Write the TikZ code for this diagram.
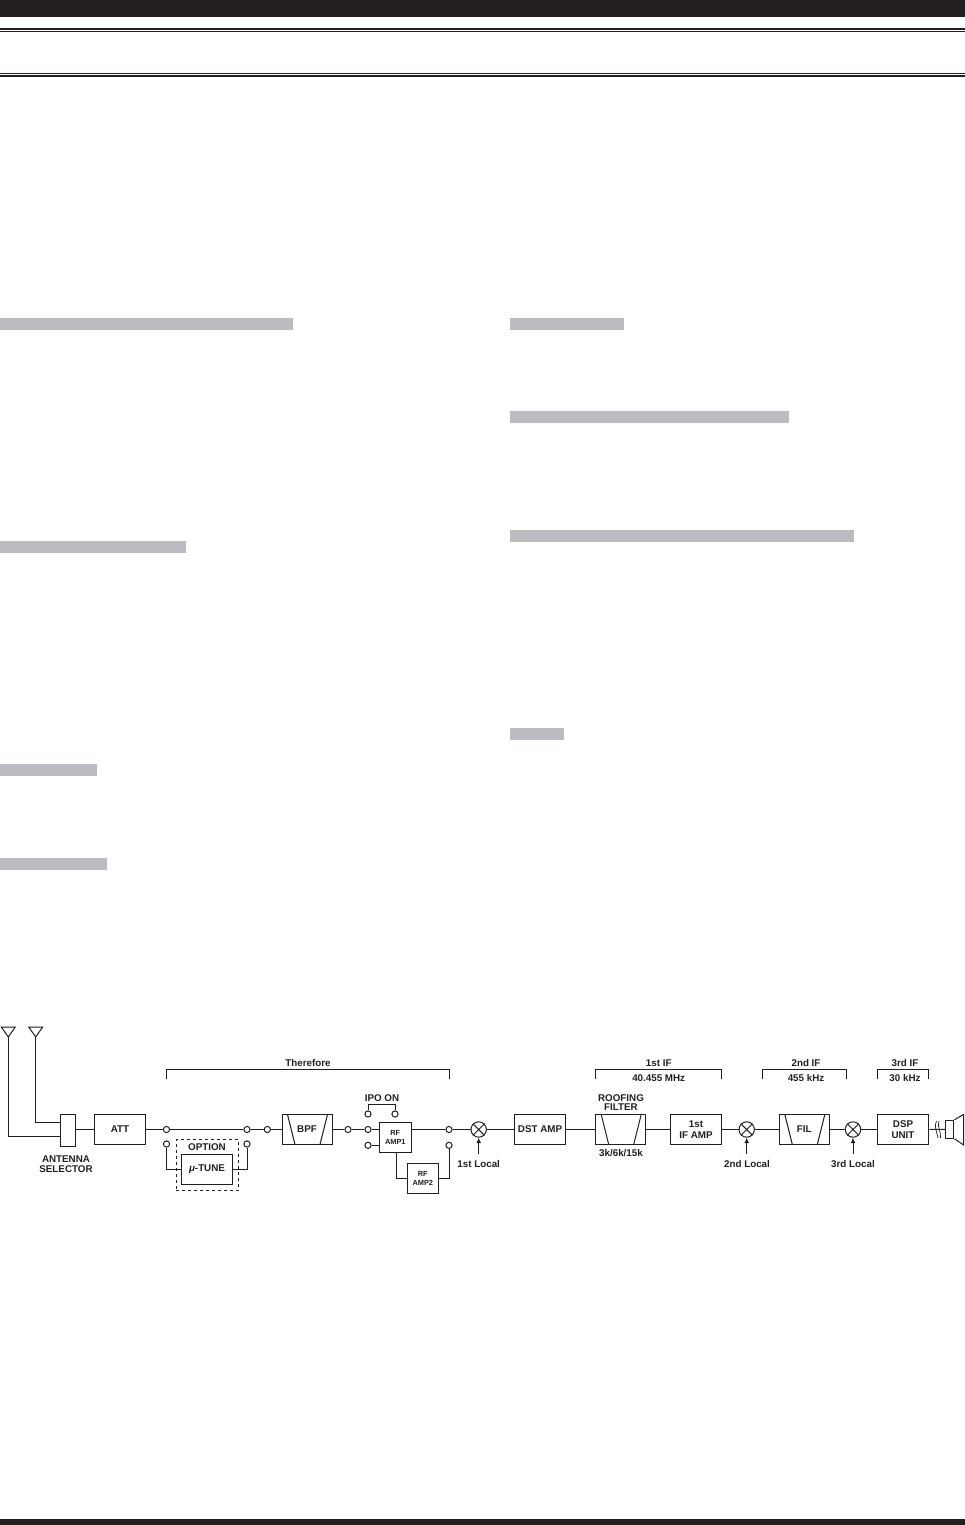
\documentclass[tikz,border=0pt]{standalone}
\usepackage{fontspec}
\setmainfont{Liberation Sans}
\usetikzlibrary{calc,arrows.meta}
\definecolor{ink}{HTML}{231F20}
\definecolor{barg}{HTML}{BBBCC0}
\tikzset{
  every path/.style={line width=1pt,color=ink},
  lab/.style={inner sep=0pt,align=center,text=ink,font=\fontsize{9.8}{9.8}\selectfont\bfseries},
  box/.style={draw=ink,fill=white,rectangle,inner sep=0pt,minimum height=30pt,minimum width=51.5pt,align=center,text=ink,font=\fontsize{9.8}{10.5}\selectfont\bfseries},
  slant/.style={box,minimum width=50pt,path picture={
    \draw[ink,line width=1pt] ([xshift=5.5pt]path picture bounding box.north west) -- ([xshift=13pt]path picture bounding box.south west);
    \draw[ink,line width=1pt] ([xshift=-4.5pt]path picture bounding box.north east) -- ([xshift=-12pt]path picture bounding box.south east);}},
  amp/.style={box,minimum width=32pt,font=\fontsize{7.4}{9}\selectfont\bfseries},
  term/.style={circle,draw=ink,fill=white,inner sep=0pt,minimum size=6.2pt},
  mix/.style={circle,draw=ink,fill=white,inner sep=0pt,minimum size=15.4pt},
  bar/.style={fill=barg},
  band/.style={fill=ink},
  arr/.style={-{Latex[length=5.5pt,width=5pt]}}
}
\newcommand{\mixcross}[1]{\draw (#1.45) -- (#1.225) (#1.135) -- (#1.315);}
\newcommand{\bracket}[2]{\draw (#1) -- ++(0,-9.5) -| (#2);}
\begin{document}
\begin{tikzpicture}[x=1pt,y=-1pt]
\useasboundingbox (0,0) rectangle (965,1525);
% page furniture
\fill[band] (0,0) rectangle (965,17);
\fill[band] (0,1519) rectangle (965,1525);
\fill[band] (0,28) rectangle (965,30);
\fill[band] (0,31.4) rectangle (965,32.2);
\fill[band] (0,73) rectangle (965,74);
\fill[band] (0,75) rectangle (965,77);
\fill[bar] (0,318) rectangle (293,330);
\fill[bar] (0,541) rectangle (186,553);
\fill[bar] (0,764) rectangle (97,776);
\fill[bar] (0,858) rectangle (107,870);
\fill[bar] (510,318) rectangle (624,330);
\fill[bar] (510,411) rectangle (789,423);
\fill[bar] (510,530) rectangle (854,542);
\fill[bar] (510,728) rectangle (564,740);
% antennas
\coordinate (ant1) at (8.3,1037);
\coordinate (ant2) at (35.7,1037);
\draw (ant1) -- ++(-7,-10) -- ++(14,0) -- cycle;
\draw (ant2) -- ++(-7,-10) -- ++(14,0) -- cycle;
% blocks
\node[box,minimum width=15pt,minimum height=32pt] (sel) at (67.5,1130) {};
\coordinate (sel1) at (60,1136);
\coordinate (sel2) at (60,1122.7);
\node[lab] (sellab) at (66,1164) {ANTENNA\\SELECTOR};
\node[box] (att) at (120,1129.5) {ATT};
\node[term] (c1) at (166.5,1129.5) {};
\node[term] (c2) at (247,1129.5) {};
\node[term] (c3) at (267.3,1129.5) {};
\node[term] (c1b) at (166.5,1144) {};
\node[term] (c2b) at (247,1144) {};
\node[box] (mu) at (207,1169.5) {\textit{μ}-TUNE};
\node[rectangle,draw=ink,dashed,minimum width=62pt,minimum height=51.5pt,inner sep=0pt,line width=0.8pt] (opt) at (207,1165) {};
\node[lab] (optlab) at (207,1147.5) {OPTION};
\node[slant] (bpf) at (307,1129.5) {BPF};
\node[term] (c4) at (348,1129.5) {};
\node[term] (c5) at (368,1129.5) {};
\node[term] (c5b) at (368,1145.3) {};
\node[term] (i1) at (368,1114) {};
\node[term] (i2) at (395,1114) {};
\node[lab] (ipo) at (382,1097.7) {IPO ON};
\node[amp] (rf1) at (395.3,1137.3) {RF\\AMP1};
\node[amp,minimum width=31pt] (rf2) at (422.8,1178.3) {RF\\AMP2};
\node[term] (c6) at (449,1129.5) {};
\node[term] (c6b) at (449,1145.3) {};
\node[mix] (m1) at (478.7,1129.5) {};
\coordinate (l1) at (478.7,1154);
\node[lab] (l1t) at (478.7,1163.5) {1st Local};
\node[box] (dst) at (540,1129.5) {DST AMP};
\node[slant] (roof) at (620.7,1129.5) {};
\node[lab] (rooft) at (621,1102.5) {ROOFING\\FILTER};
\node[lab] (roofb) at (621,1153.3) {3k/6k/15k};
\node[box] (ifa) at (696,1129.5) {1st\\IF AMP};
\node[mix] (m2) at (746.7,1129.5) {};
\coordinate (l2) at (746.7,1154);
\node[lab] (l2t) at (747,1163.5) {2nd Local};
\node[slant] (fil) at (804.3,1129.5) {FIL};
\node[mix] (m3) at (853,1129.5) {};
\coordinate (l3) at (853,1154);
\node[lab] (l3t) at (853,1163.5) {3rd Local};
\node[box] (dsp) at (903,1129.5) {DSP\\UNIT};
\node[rectangle,draw=ink,inner sep=0pt,minimum width=8.7pt,minimum height=18pt] (spk) at (949.6,1129.3) {};
% speaker cone
\draw (spk.north east) -- (963.7,1114.3) -- (963.7,1145) -- (spk.south east);
% connectors
\draw (ant1) |- (sel1);
\draw (ant2) |- (sel2);
\draw (sel.east |- att.west) -- (att.west);
\draw (att.east) -- (c1.west);
\draw (c1.east) -- (c2.west);
\draw (c2.east) -- (c3.west);
\draw (c3.east) -- (bpf.west);
\draw (c1b.south) |- (mu.west);
\draw (c2b.south) |- (mu.east);
\draw (bpf.east) -- (c4.west);
\draw (c4.east) -- (c5.west);
\draw (c5.east) -- (rf1.west |- c5.east);
\draw (c5b.east) -- (rf1.west |- c5b.east);
\draw (i1.north) -- ++(0,-5.5) -| (i2.north);
\draw (rf1.east |- c6.west) -- (c6.west);
\draw (c6b.south) |- (rf2.east);
\coordinate (rf1s) at (396.7,1152.3);
\draw (rf1s) |- (rf2.west);
\draw (c6.east) -- (m1.west);
\draw (m1.east) -- (dst.west);
\draw (dst.east) -- (roof.west);
\draw (roof.east) -- (ifa.west);
\draw (ifa.east) -- (m2.west);
\draw (m2.east) -- (fil.west);
\draw (fil.east) -- (m3.west);
\draw (m3.east) -- (dsp.west);
\draw (dsp.east) -- (spk.west);
% sound waves
\draw[line width=0.7pt] (936.5,1121) .. controls (933.5,1126) and (937,1132) .. (938,1138);
\draw[line width=0.7pt] (939,1121) .. controls (936.5,1126) and (941.5,1132) .. (940.5,1138);
\draw[arr] (l1) -- (m1.south);
\draw[arr] (l2) -- (m2.south);
\draw[arr] (l3) -- (m3.south);
\mixcross{m1}\mixcross{m2}\mixcross{m3}
% brackets
\coordinate (b1l) at (166.5,1078.5); \coordinate (b1r) at (449,1078.5);
\coordinate (b2l) at (595.7,1078.5); \coordinate (b2r) at (721.7,1078.5);
\coordinate (b3l) at (762.3,1078.5); \coordinate (b3r) at (846.3,1078.5);
\coordinate (b4l) at (877.3,1078.5); \coordinate (b4r) at (928.7,1078.5);
\bracket{b1l}{b1r}\bracket{b2l}{b2r}\bracket{b3l}{b3r}\bracket{b4l}{b4r}
\node[lab] (t1) at (308,1062.7) {Therefore};
\node[lab] (t2) at (658.7,1062.7) {1st IF};
\node[lab] (t3) at (658.7,1078) {40.455 MHz};
\node[lab] (t4) at (806,1062.7) {2nd IF};
\node[lab] (t5) at (806,1078) {455 kHz};
\node[lab] (t6) at (905,1062.7) {3rd IF};
\node[lab] (t7) at (905,1078) {30 kHz};
\end{tikzpicture}
\end{document}
